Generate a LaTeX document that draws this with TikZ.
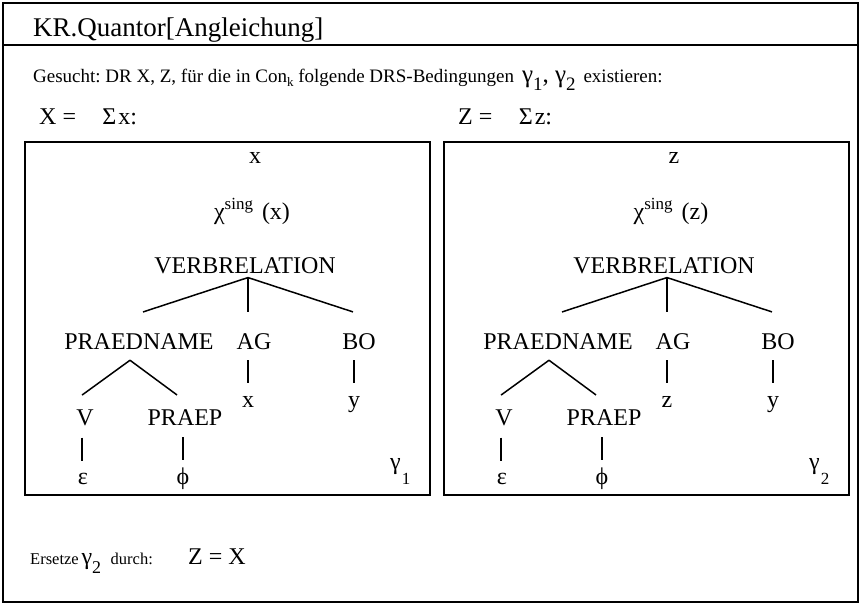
\documentclass[tikz,border=0pt]{standalone}
\usepackage{fontspec}
\setmainfont{Liberation Serif}
\frenchspacing
\newcommand\fs[1]{\fontsize{#1}{#1}\selectfont}
\newcommand\lowsub[3]{\raisebox{-#1pt}{\fs{#2}#3}}
\tikzset{
  lbl/.style={inner sep=0pt, anchor=base, font=\fs{24}},
  txt/.style={inner sep=0pt, anchor=base west},
  edge/.style={line width=1.5pt},
  frame/.style={line width=1.8pt},
}
\newcommand\drsbox[5]{%
\begin{scope}[xshift=#2]
  \node[frame, draw, minimum width=405pt, minimum height=353pt, anchor=north west] (#1box) at (24,141) {};
  \node[lbl] (#1var) at (255,163) {#3};
  \node[lbl] (#1chi) at (252,219) {χ\kern0pt\raisebox{10pt}{\fs{17}sing}\kern9pt(#3)};
  \node[lbl] (#1vr) at (245,273) {VERBRELATION};
  \node[lbl] (#1pn) at (139,349) {PRAEDNAME};
  \node[lbl] (#1ag) at (254,349) {AG};
  \node[lbl] (#1bo) at (359,349) {BO};
  \node[lbl] (#1agv) at (248,407) {#4};
  \node[lbl] (#1bov) at (354,407) {y};
  \node[lbl] (#1v) at (85,425) {V};
  \node[lbl] (#1pr) at (185,425) {PRAEP};
  \node[lbl] (#1eps) at (83,484) {ε};
  \node[lbl] (#1phi) at (183,484) {ϕ};
  \node[txt, font=\fs{24}] (#1gam) at (390,469) {γ\kern1pt\lowsub{15}{17}{#5}};
  \draw[edge] ([xshift=3pt,yshift=-4pt]#1vr.south) -- ([xshift=4pt,yshift=21pt]#1pn.north);
  \draw[edge] ([xshift=3pt,yshift=-4pt]#1vr.south) -- ([xshift=-6pt,yshift=21pt]#1ag.north);
  \draw[edge] ([xshift=3pt,yshift=-4pt]#1vr.south) -- ([xshift=-6pt,yshift=21pt]#1bo.north);
  \draw[edge] ([xshift=-6pt,yshift=-11pt]#1ag.south) -- ([xshift=-6pt,yshift=-34pt]#1ag.south);
  \draw[edge] ([xshift=-5pt,yshift=-11pt]#1bo.south) -- ([xshift=-5pt,yshift=-34pt]#1bo.south);
  \draw[edge] ([xshift=-9pt,yshift=-11pt]#1pn.south) -- ([xshift=-3pt,yshift=14pt]#1v.north);
  \draw[edge] ([xshift=-9pt,yshift=-11pt]#1pn.south) -- ([xshift=-8pt,yshift=14pt]#1pr.north);
  \draw[edge] ([xshift=-3pt,yshift=-12pt]#1v.south) -- ([xshift=-3pt,yshift=-35pt]#1v.south);
  \draw[edge] ([xshift=-2pt,yshift=-12pt]#1pr.south) -- ([xshift=-2pt,yshift=-35pt]#1pr.south);
\end{scope}}
\begin{document}
\begin{tikzpicture}[x=1pt,y=-1pt]
\useasboundingbox (0,0) rectangle (861,605);
\draw[frame] (3,3) rectangle (858,602);
\draw[frame] (3,45) -- (858,45);
\node[txt, font=\fs{27}] (title) at (33,36) {KR.Quantor[Angleichung]};
\node[txt, font=\fs{19}] (ges) at (33,82) {Gesucht: DR X, Z, für die in Con\raisebox{-4pt}{\fs{13}k} folgende DRS-Bedingungen\, {\fs{25}γ\lowsub{8}{19}{1}, γ\lowsub{8}{19}{2}}\, existieren:};
\node[txt, font=\fs{24}] (xeq) at (39,124) {X =\hspace{1.1em}Σ\kern2pt x:};
\node[txt, font=\fs{24}] (zeq) at (458,124) {Z =\hspace{1.1em}Σ\kern2pt z:};
\drsbox{L}{0pt}{x}{x}{1}
\drsbox{R}{419pt}{z}{z}{2}
\node[txt, font=\fs{16.5}] (ers) at (30,564) {Ersetze\,{\fs{24}γ\lowsub{9}{18}{2}}\,\, durch:};
\node[txt, font=\fs{24}] (zx) at (188,564) {Z = X};
\end{tikzpicture}
\end{document}
